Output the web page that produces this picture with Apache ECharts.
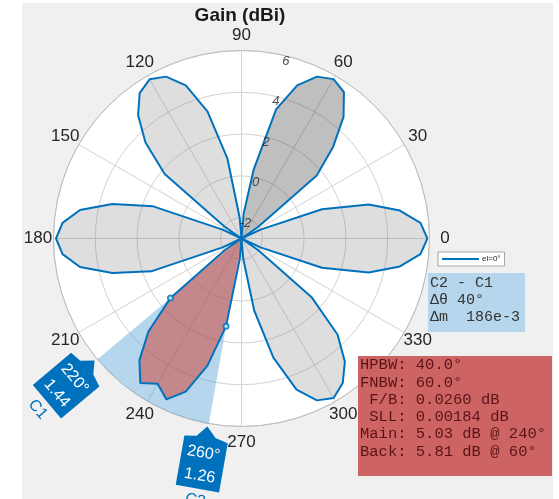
<!DOCTYPE html>
<html>
<head>
<meta charset="utf-8">
<script src="https://cdn.jsdelivr.net/npm/echarts@6/dist/echarts.min.js"></script>
<style>
  html, body { margin: 0; padding: 0; background: #ffffff; }
  #chart { width: 559px; height: 499px; }
</style>
</head>
<body>
<div id="chart"></div>
<script>
// Azimuth cut of the antenna gain pattern (dBi), elevation 0°
const angles = [
  0, 5, 10, 15, 20, 25, 30, 35, 40, 45, 50, 55,
  60, 65, 70, 75, 80, 85, 90, 95, 100, 105, 110, 115,
  120, 125, 130, 135, 140, 145, 150, 155, 160, 165, 170, 175,
  180, 185, 190, 195, 200, 205, 210, 215, 220, 225, 230, 235,
  240, 245, 250, 255, 260, 265, 270, 275, 280, 285, 290, 295,
  300, 305, 310, 315, 320, 325, 330, 335, 340, 345, 350, 355
];
const gain = [
  5.90, 5.60, 4.70, 3.30, 1.10, -2.0, -3.0, -2.0, 1.70, 3.20, 4.60, 5.55,
  5.81, 5.55, 4.80, 3.40, 0.35, -1.8, -3.0, -2.0, 0.90, 3.30, 4.80, 5.55,
  5.80, 5.50, 4.70, 3.50, 1.80, -2.0, -3.0, -2.0, 1.50, 3.40, 4.85, 5.60,
  5.88, 5.60, 4.85, 3.40, 1.60, -2.0, -3.0, -2.0, 1.44, 3.30, 4.60, 5.45,
  5.03, 5.50, 4.80, 3.30, 1.26, -2.0, -3.0, -2.0, 0.50, 2.90, 4.70, 5.55,
  5.82, 5.45, 4.70, 3.50, 1.40, -2.0, -3.0, -2.0, 1.10, 3.30, 4.70, 5.60
];
const angleTicks = [0, 30, 60, 90, 120, 150, 180, 210, 240, 270, 300, 330];
const ringTicks = [-2, 0, 2, 4, 6];
const radiusMin = -3;
const radiusMax = 6;
const ringLabelAngle = 76;

// lobe spans (degrees)
const mainLobe = [210, 270];
const backLobe = [30, 90];
const sideLobes = [[-30, 30], [90, 150], [150, 210], [270, 330]];

// angle cursors
const cursorNames = ['C1', 'C2'];
const cursorAngles = [220, 260];
const cursorValues = [1.44, 1.26];

const legendName = 'el=0°';
const titleText = 'Gain (dBi)';
const cursorInfo = ['C2 - C1', 'Δθ 40°', 'Δm  186e-3'];
const metricsInfo = [
  'HPBW: 40.0°',
  'FNBW: 60.0°',
  ' F/B: 0.0260 dB',
  ' SLL: 0.00184 dB',
  'Main: 5.03 dB @ 240°',
  'Back: 5.81 dB @ 60°'
];

const BLUE = '#0072bd';
const CX = 241.5, CY = 238.5, R = 188;
const SANS = '"Liberation Sans", Arial, Helvetica, sans-serif';
const MONO = '"Liberation Mono", "DejaVu Sans Mono", monospace';

function gainAt(a) {
  const n = ((a % 360) + 360) % 360;
  return gain[angles.indexOf(n)];
}
function lobePoints(span) {
  const pts = [];
  const step = angles[1] - angles[0];
  for (let a = span[0]; a <= span[1]; a += step) {
    const n = ((a % 360) + 360) % 360;
    pts.push([gainAt(n), n]);
  }
  return pts;
}
function lobeSeries(span, color) {
  return {
    type: 'line', coordinateSystem: 'polar', silent: true,
    data: lobePoints(span), symbol: 'none',
    lineStyle: { opacity: 0 },
    areaStyle: { color: color, opacity: 1, origin: 'start' },
    z: 3
  };
}

const outline = angles.map((a, i) => [gain[i], a]);
outline.push([gain[0], angles[0]]);

const series = [];

// cursor span wedge
series.push({
  type: 'custom', coordinateSystem: 'polar', silent: true, z: 2,
  data: [[radiusMax, cursorAngles[0], cursorAngles[1]]],
  renderItem: function (params, api) {
    const cs = params.coordSys;
    const a0 = api.value(1) * Math.PI / 180;
    const a1 = api.value(2) * Math.PI / 180;
    return {
      type: 'sector',
      shape: { cx: cs.cx, cy: cs.cy, r0: 0, r: cs.r, startAngle: -a1, endAngle: -a0, clockwise: true },
      style: { fill: 'rgba(70,152,207,0.4)' }
    };
  }
});

sideLobes.forEach(s => series.push(lobeSeries(s, 'rgba(128,128,128,0.26)')));
series.push(lobeSeries(backLobe, 'rgba(60,60,60,0.33)'));
series.push(lobeSeries(mainLobe, 'rgba(211,56,44,0.5)'));

series.push({
  name: legendName, type: 'line', coordinateSystem: 'polar',
  data: outline, symbol: 'none', silent: true,
  lineStyle: { color: BLUE, width: 2 }, itemStyle: { color: BLUE },
  z: 5
});

// cursor points on the pattern
series.push({
  type: 'scatter', coordinateSystem: 'polar', silent: true, z: 6,
  data: cursorValues.map((v, i) => [v, cursorAngles[i]]),
  symbol: 'emptyCircle', symbolSize: 5,
  itemStyle: { color: BLUE, borderColor: BLUE, borderWidth: 1 }
});

// magnitude ring labels
series.push({
  type: 'scatter', coordinateSystem: 'polar', silent: true, z: 6,
  data: ringTicks.map(v => [v, ringLabelAngle]),
  symbol: 'circle', symbolSize: 1,
  itemStyle: { color: 'rgba(0,0,0,0)' },
  label: {
    show: true, position: 'inside', offset: [-1, 5],
    formatter: p => String(p.value[0]),
    fontStyle: 'italic', fontSize: 13, fontFamily: 'Liberation Sans',
    color: '#262626'
  }
});

// angle labels, centred just outside the rim
series.push({
  type: 'custom', coordinateSystem: 'polar', silent: true, z: 6,
  data: angleTicks.map(a => [radiusMax, a]),
  renderItem: function (params, api) {
    const cs = params.coordSys;
    const t = api.value(1) * Math.PI / 180;
    const rr = cs.r + 15.5;
    return {
      type: 'text',
      x: cs.cx + rr * Math.cos(t), y: cs.cy - rr * Math.sin(t),
      style: {
        text: String(api.value(1)), fill: '#262626', font: '17px ' + SANS,
        align: 'center', verticalAlign: 'middle', textAlign: 'center', textVerticalAlign: 'middle'
      }
    };
  }
});

// cursor flags on the rim
series.push({
  type: 'custom', coordinateSystem: 'polar', silent: true, z: 8,
  data: cursorAngles.map((a, i) => [cursorValues[i], a, i]),
  renderItem: function (params, api) {
    const cs = params.coordSys;
    const v = api.value(0), a = api.value(1), i = api.value(2);
    const t = a * Math.PI / 180;
    const px = cs.cx + cs.r * Math.cos(t);
    const py = cs.cy - cs.r * Math.sin(t);
    const txt = (text, x, y, fill) => ({
      type: 'text', x: x, y: y,
      style: {
        text: text, fill: fill, font: '16px ' + SANS,
        align: 'center', verticalAlign: 'middle',
        textAlign: 'center', textVerticalAlign: 'middle'
      }
    });
    return {
      type: 'group', x: px, y: py, rotation: (a + 90) * Math.PI / 180,
      children: [
        {
          type: 'polygon',
          shape: { points: [[-22, 16], [-10, 14], [-1, 3], [9, 13], [22, 16], [22, 66], [-22, 66]] },
          style: { fill: BLUE }
        },
        txt(a + '°', 0, 30, '#ffffff'),
        txt(v.toFixed(2), 0, 53, '#ffffff'),
        txt(cursorNames[i], 0, 78, BLUE)
      ]
    };
  }
});

const graphics = [
  { type: 'rect', shape: { x: 22, y: 3, width: 531, height: 496 }, style: { fill: '#f0f0f0' }, z: -20, silent: true },
  { type: 'circle', shape: { cx: CX, cy: CY, r: R }, style: { fill: '#ffffff' }, z: -19, silent: true },
  {
    type: 'text', x: 240, y: 16, z: 10,
    style: { text: titleText, fill: '#1a1a1a', font: 'bold 19px ' + SANS, textAlign: 'center', textVerticalAlign: 'middle' }
  },
  { type: 'rect', shape: { x: 428, y: 273, width: 97, height: 59 }, style: { fill: '#b5d6ec' }, z: 10 },
  { type: 'rect', shape: { x: 358, y: 356, width: 194, height: 120 }, style: { fill: '#cd6363' }, z: 10 },
  {
    type: 'text', x: 430, y: 275, z: 11,
    style: { text: cursorInfo.join('\n'), fill: '#333333', font: '15px ' + MONO, lineHeight: 16.8, textAlign: 'left', textVerticalAlign: 'top' }
  },
  {
    type: 'text', x: 360, y: 356.5, z: 11,
    style: { text: metricsInfo.join('\n'), fill: '#5a1418', font: '15.5px ' + MONO, lineHeight: 17.3, textAlign: 'left', textVerticalAlign: 'top' }
  }
];

const chart = echarts.init(document.getElementById('chart'), null, { renderer: 'canvas' });
chart.setOption({
  animation: false,
  backgroundColor: '#ffffff',
  polar: { center: [CX, CY], radius: R },
  angleAxis: {
    type: 'value', min: 0, max: 360, interval: 30,
    startAngle: 0, clockwise: false,
    axisLine: { show: true, lineStyle: { color: '#bdbdbd', width: 1 } },
    axisTick: { show: false },
    axisLabel: { show: false },
    splitLine: { show: true, lineStyle: { color: '#d2d2d2', width: 1 } }
  },
  radiusAxis: {
    type: 'value', min: radiusMin, max: radiusMax, interval: 1,
    axisLine: { show: false }, axisTick: { show: false }, axisLabel: { show: false },
    splitLine: { show: true, lineStyle: { color: ['rgba(0,0,0,0)', '#d2d2d2'], width: 1 } }
  },
  legend: {
    data: [{ name: legendName, icon: 'rect' }], left: 438, top: 252, orient: 'horizontal',
    backgroundColor: '#ffffff', borderColor: '#a6a6a6', borderWidth: 1,
    padding: [3, 4, 3, 4], itemWidth: 37, itemHeight: 2, itemGap: 2,
    selectedMode: false,
    textStyle: { fontSize: 8, color: '#222222', fontFamily: 'Liberation Sans', padding: [0, 0, 0, -2] }
  },
  graphic: { elements: graphics },
  series: series
});
</script>
</body>
</html>
